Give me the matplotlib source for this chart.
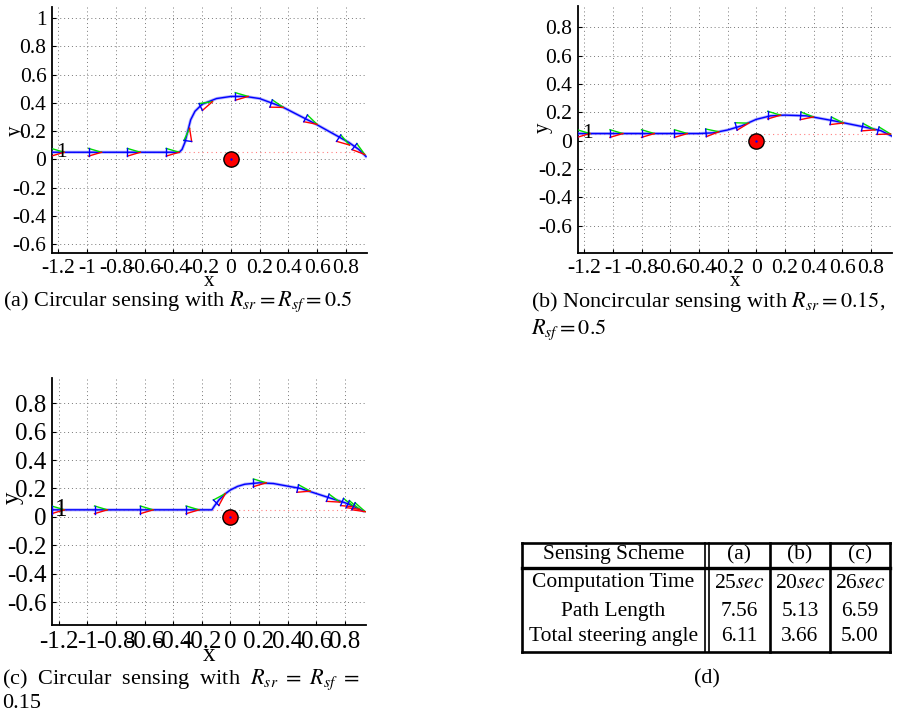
import numpy as np
import matplotlib
matplotlib.use("Agg")
import matplotlib.pyplot as plt

plt.rcParams['font.family'] = ['Liberation Serif', 'DejaVu Serif']
plt.rcParams['mathtext.fontset'] = 'stix'
plt.rcParams['axes.unicode_minus'] = False

# ---------------- data ----------------
x_ticks = [-1.2, -1.0, -0.8, -0.6, -0.4, -0.2, 0.0, 0.2, 0.4, 0.6, 0.8]
x_ticklabels = ["-1.2", "-1", "-0.8", "-0.6", "-0.4", "-0.2", "0", "0.2", "0.4", "0.6", "0.8"]
y_ticks_a = [-0.6, -0.4, -0.2, 0.0, 0.2, 0.4, 0.6, 0.8, 1.0]
y_ticklabels_a = ["-0.6", "-0.4", "-0.2", "0", "0.2", "0.4", "0.6", "0.8", "1"]
y_ticks_bc = [-0.6, -0.4, -0.2, 0.0, 0.2, 0.4, 0.6, 0.8]
y_ticklabels_bc = ["-0.6", "-0.4", "-0.2", "0", "0.2", "0.4", "0.6", "0.8"]

obstacle_xy = (0.0, 0.0)
ref_y = 0.05
start_label = "1"

# (a) circular sensing Rsr = Rsf = 0.5
path_a_x = [-1.25, -0.36, -0.34, -0.32, -0.30, -0.28, -0.25, -0.20, -0.10, 0.00, 0.10, 0.20, 0.36, 0.59, 0.82, 0.89, 0.94]
path_a_y = [0.05, 0.05, 0.07, 0.12, 0.20, 0.28, 0.34, 0.39, 0.43, 0.445, 0.445, 0.43, 0.37, 0.25, 0.12, 0.07, 0.02]
pose_a_x = [-1.25, -0.99, -0.72, -0.45, -0.30, -0.21, 0.03, 0.28, 0.52, 0.75, 0.86]
pose_a_y = [0.05, 0.05, 0.05, 0.05, 0.13, 0.37, 0.445, 0.395, 0.29, 0.15, 0.09]
pose_a_th = [0, 0, 0, 0, 82, 25, 0, -18, -28, -33, -38]

# (b) noncircular sensing Rsr = 0.15, Rsf = 0.5
path_b_x = [-1.25, -0.40, -0.30, -0.20, -0.10, 0.00, 0.10, 0.20, 0.35, 0.54, 0.76, 0.87, 0.95]
path_b_y = [0.05, 0.05, 0.055, 0.075, 0.105, 0.15, 0.175, 0.18, 0.175, 0.14, 0.095, 0.07, 0.03]
pose_b_x = [-1.25, -1.02, -0.80, -0.57, -0.35, -0.14, 0.08, 0.31, 0.52, 0.74, 0.85]
pose_b_y = [0.05, 0.05, 0.05, 0.05, 0.055, 0.10, 0.18, 0.175, 0.14, 0.095, 0.07]
pose_b_th = [0, 0, 0, 0, 5, 15, 0, -5, -10, -12, -15]

# (c) circular sensing Rsr = Rsf = 0.15
path_c_x = [-1.25, -0.13, -0.11, -0.08, -0.04, 0.00, 0.05, 0.10, 0.20, 0.30, 0.49, 0.69, 0.80, 0.86, 0.93]
path_c_y = [0.05, 0.05, 0.08, 0.12, 0.16, 0.19, 0.215, 0.23, 0.24, 0.235, 0.20, 0.135, 0.10, 0.075, 0.04]
pose_c_x = [-1.25, -0.95, -0.63, -0.31, -0.10, 0.16, 0.47, 0.68, 0.78, 0.82, 0.86]
pose_c_y = [0.05, 0.05, 0.05, 0.05, 0.10, 0.24, 0.20, 0.135, 0.105, 0.09, 0.075]
pose_c_th = [0, 0, 0, 0, 45, 0, -12, -20, -22, -24, -25]

table_cols = ["Sensing Scheme", "(a)", "(b)", "(c)"]
table_rows = ["Computation Time", "Path Length", "Total steering angle"]
table_time = [r"25$\mathit{sec}$", r"20$\mathit{sec}$", r"26$\mathit{sec}$"]
path_length = [7.56, 5.13, 6.59]
steering_angle = [6.11, 3.66, 5.00]

# ---------------- figure ----------------
W, H = 898, 715
fig = plt.figure(figsize=(W / 100, H / 100), dpi=100)


def px_axes(l, r, t, b):
    return fig.add_axes([l / W, 1 - b / H, (r - l) / W, (b - t) / H])


def draw_panel(ax, px, py, sx, sy, sth, ylim, yt, ytl, fs):
    ax.set_xlim(-1.245, 0.945)
    ax.set_ylim(*ylim)
    ax.set_xticks(x_ticks)
    ax.set_xticklabels(x_ticklabels)
    ax.set_yticks(yt)
    ax.set_yticklabels(ytl)
    ax.tick_params(labelsize=fs, direction='in', length=3, width=0.8, pad=4)
    for s in ['top', 'right']:
        ax.spines[s].set_visible(False)
    for s in ['left', 'bottom']:
        ax.spines[s].set_linewidth(1.3)
    ax.grid(True, color='#777777', linestyle=(0, (1, 3)), linewidth=0.7)
    ax.set_axisbelow(True)
    # reference line
    ax.plot([px[0], px[-1]], [ref_y, ref_y], color='#ff8080', linestyle=(0, (1, 3)), linewidth=0.8, zorder=2)
    # path
    ax.plot(px, py, color='#7f7fff', linewidth=2.2, alpha=0.6, zorder=3)
    ax.plot(px, py, color='blue', linewidth=1.0, zorder=4)
    # poses
    L, h = 0.09, 0.027
    for x, y, th in zip(sx, sy, sth):
        t = np.deg2rad(th)
        c, s = np.cos(t), np.sin(t)
        top = (x - h * s, y + h * c)
        bot = (x + h * s, y - h * c)
        tip = (x + L * c, y + L * s)
        ax.plot([top[0], tip[0]], [top[1], tip[1]], color='#00dd00', linewidth=1.0, zorder=5)
        ax.plot([bot[0], tip[0]], [bot[1], tip[1]], color='red', linewidth=1.0, zorder=5)
        ax.plot([top[0], bot[0]], [top[1], bot[1]], color='blue', linewidth=1.0, zorder=6)
    ax.text(sx[0] + 0.07, ref_y, start_label, fontsize=fs, ha='center', va='center', zorder=7)
    # obstacle
    ax.plot([obstacle_xy[0]], [obstacle_xy[1]], 'o', markersize=11, markerfacecolor='red',
            markeredgecolor='black', markeredgewidth=1.0, zorder=6)
    ax.plot([obstacle_xy[0]], [obstacle_xy[1]], '.', markersize=1.5, color='blue', zorder=7)


ax_a = px_axes(52, 366.7, 6.7, 253.3)
draw_panel(ax_a, path_a_x, path_a_y, pose_a_x, pose_a_y, pose_a_th, (-0.665, 1.08), y_ticks_a, y_ticklabels_a, 15.5)
ax_b = px_axes(577.7, 891.7, 6, 253.3)
draw_panel(ax_b, path_b_x, path_b_y, pose_b_x, pose_b_y, pose_b_th, (-0.795, 0.95), y_ticks_bc, y_ticklabels_bc, 15.5)
ax_c = px_axes(52.3, 365.7, 378.3, 625)
draw_panel(ax_c, path_c_x, path_c_y, pose_c_x, pose_c_y, pose_c_th, (-0.76, 0.975), y_ticks_bc, y_ticklabels_bc, 18)


def ftext(x, y, s, **kw):
    fig.text(x / W, 1 - y / H, s, **kw)


# axis labels
ftext(209, 281, "x", fontsize=15, ha='center', va='center')
ftext(15, 131, "y", fontsize=15, ha='center', va='center', rotation=90)
ftext(735, 281, "x", fontsize=15, ha='center', va='center')
ftext(543, 128, "y", fontsize=15, ha='center', va='center', rotation=90)
ftext(209, 655, "x", fontsize=18, ha='center', va='center')
ftext(13, 498, "y", fontsize=18, ha='center', va='center', rotation=90)

CAP_FS = 16
ftext(3, 302, r"(a) Circular sensing with $R_{sr} = R_{sf} = 0.5$", fontsize=CAP_FS, ha='left', va='center')
ftext(531, 302, r"(b) Noncircular sensing with $R_{sr} = 0.15$,", fontsize=CAP_FS, ha='left', va='center')
ftext(531, 330, r"$R_{sf} = 0.5$", fontsize=CAP_FS, ha='left', va='center')
ftext(2, 680, r"(c)  Circular  sensing  with  $R_{sr}\ =\ R_{sf}\ =$", fontsize=CAP_FS, ha='left', va='center')
ftext(2, 704, "0.15", fontsize=CAP_FS, ha='left', va='center')
ftext(707, 679, "(d)", fontsize=CAP_FS, ha='center', va='center')

# table (d)
tl, tr, tt, tb = 521.7, 890, 542.7, 651.7
col_edges = [tl, 705, 770, 830, tr]
row_centers = [555, 583, 611.5, 636.5]
hdr_bottom = 568
lw_tab = 1.9


def hline(y, x0, x1, lw=lw_tab):
    fig.add_artist(plt.Line2D([x0 / W, x1 / W], [1 - y / H, 1 - y / H], color='black', linewidth=lw))


def vline(x, y0, y1, lw=lw_tab):
    fig.add_artist(plt.Line2D([x / W, x / W], [1 - y0 / H, 1 - y1 / H], color='black', linewidth=lw))


hline(tt, tl, tr)
hline(tb, tl, tr)
hline(hdr_bottom, tl, tr, lw=2.4)
vline(tl, tt, tb)
vline(tr, tt, tb)
vline(col_edges[1], tt, tb, lw=1.2)
vline(col_edges[1] + 3.5, tt, tb, lw=1.2)
vline(col_edges[2], tt, tb)
vline(col_edges[3], tt, tb)

TAB_FS = 15.5
centers = [(col_edges[0] + col_edges[1]) / 2, (col_edges[1] + 3.5 + col_edges[2]) / 2,
           (col_edges[2] + col_edges[3]) / 2, (col_edges[3] + col_edges[4]) / 2]
for cx, s in zip(centers, table_cols):
    ftext(cx, row_centers[0], s, fontsize=TAB_FS, ha='center', va='center')
ftext(centers[0], row_centers[1], table_rows[0], fontsize=TAB_FS, ha='center', va='center')
ftext(centers[0], row_centers[2], table_rows[1], fontsize=TAB_FS, ha='center', va='center')
ftext(centers[0], row_centers[3], table_rows[2], fontsize=TAB_FS, ha='center', va='center')
for i in range(3):
    ftext(centers[i + 1], row_centers[1], table_time[i], fontsize=TAB_FS, ha='center', va='center')
    ftext(centers[i + 1], row_centers[2], f"{path_length[i]:.2f}", fontsize=TAB_FS, ha='center', va='center')
    ftext(centers[i + 1], row_centers[3], f"{steering_angle[i]:.2f}", fontsize=TAB_FS, ha='center', va='center')

fig.savefig("out.png", dpi=100)
